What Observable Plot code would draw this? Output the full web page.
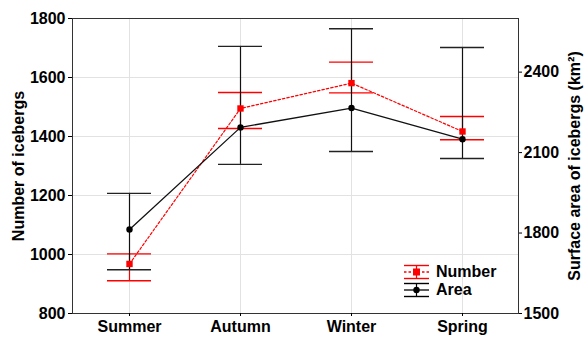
<!DOCTYPE html>
<html>
<head>
<meta charset="utf-8">
<script src="https://cdn.jsdelivr.net/npm/d3@7"></script>
<script src="https://cdn.jsdelivr.net/npm/@observablehq/plot@0.6"></script>
<style>
  html, body { margin: 0; padding: 0; background: #fff; }
  #wrap { position: relative; width: 587px; height: 338px; font-family: "Liberation Sans", Arial, sans-serif; }
  #legend { position: absolute; left: 402px; top: 263px; font-weight: bold; font-size: 16px; line-height: 18px; }
  #legend .row { display: flex; align-items: center; height: 18px; }
  #legend svg { margin-right: 6px; }
</style>
</head>
<body>
<div id="wrap">
  <div id="chart"></div>
  <div id="legend"></div>
</div>
<script>
const categories = ["Summer", "Autumn", "Winter", "Spring"];
const numberMean = [968, 1495, 1581, 1417];
const numberLow  = [911, 1427, 1548, 1389];
const numberHigh = [1002, 1549, 1652, 1468];
const areaMean = [1813, 2194, 2266, 2150];
const areaLow  = [1663, 2056, 2104, 2078];
const areaHigh = [1948, 2496, 2562, 2492];
const leftTicks = [800, 1000, 1200, 1400, 1600, 1800];
const rightTicks = [1500, 1800, 2100, 2400];
const leftDomain = [800, 1800];
const rightDomain = [1500, 2600];

const toLeft = a => leftDomain[0] + (a - rightDomain[0]) * (leftDomain[1] - leftDomain[0]) / (rightDomain[1] - rightDomain[0]);
const fromLeft = v => rightDomain[0] + (v - leftDomain[0]) * (rightDomain[1] - rightDomain[0]) / (leftDomain[1] - leftDomain[0]);

const data = categories.map((c, i) => ({
  cat: c,
  n: numberMean[i], nLo: numberLow[i], nHi: numberHigh[i],
  a: toLeft(areaMean[i]), aLo: toLeft(areaLow[i]), aHi: toLeft(areaHigh[i])
}));

const RED = "#ff0000";
const plot = Plot.plot({
  width: 587, height: 338,
  marginLeft: 72, marginRight: 69, marginTop: 18, marginBottom: 25,
  style: { fontFamily: '"Liberation Sans", Arial, sans-serif', fontWeight: "bold", fontSize: "16px", background: "white", color: "black", overflow: "visible" },
  x: { type: "band", domain: categories, paddingInner: 0.605, paddingOuter: 0.305, label: null },
  y: { domain: leftDomain, label: null },
  marks: [
    Plot.gridY(leftTicks.slice(1, -1), { stroke: "#e2e2e2", strokeOpacity: 1 }),
    Plot.gridX(categories, { stroke: "#e2e2e2", strokeOpacity: 1 }),
    Plot.frame({ stroke: "#333" }),
    Plot.axisY(leftTicks, { anchor: "left", tickSize: 4, tickPadding: 3, label: "Number of icebergs", labelArrow: "none", labelAnchor: "center", labelOffset: 60, tickFormat: d => String(d) }),
    Plot.axisY(rightTicks.map(toLeft), { anchor: "right", tickSize: 3, tickPadding: 2, label: "Surface area of icebergs (km²)", labelArrow: "none", labelAnchor: "center", labelOffset: 61, tickFormat: d => String(Math.round(fromLeft(d))) }),
    Plot.axisX(categories, { anchor: "bottom", tickSize: 3, tickPadding: 4, label: null }),
    // Number series (red)
    Plot.ruleX(data, { x: "cat", y1: "nLo", y2: "nHi", stroke: RED, strokeWidth: 1.2 }),
    Plot.tickY(data, { x: "cat", y: "nLo", stroke: RED, strokeWidth: 1.4 }),
    Plot.tickY(data, { x: "cat", y: "nHi", stroke: RED, strokeWidth: 1.4 }),
    Plot.line(data, { x: "cat", y: "n", stroke: RED, strokeWidth: 1.2, strokeDasharray: "2.5,2" }),
    // Area series (black)
    Plot.ruleX(data, { x: "cat", y1: "aLo", y2: "aHi", stroke: "#111", strokeWidth: 1.2 }),
    Plot.tickY(data, { x: "cat", y: "aLo", stroke: "#222", strokeWidth: 1.4 }),
    Plot.tickY(data, { x: "cat", y: "aHi", stroke: "#222", strokeWidth: 1.4 }),
    Plot.line(data, { x: "cat", y: "a", stroke: "#111", strokeWidth: 1.3 }),
    Plot.dot(data, { x: "cat", y: "n", symbol: "square", fill: RED, r: 3.6 }),
    Plot.dot(data, { x: "cat", y: "a", symbol: "circle", fill: "#000", r: 3.2 })
  ]
});
document.getElementById("chart").appendChild(plot);

// Legend
const legendItems = [
  { label: "Number", color: RED, dash: "2.5,2", shape: "square" },
  { label: "Area", color: "#000", dash: null, shape: "circle" }
];
const lg = d3.select("#legend");
legendItems.forEach(it => {
  const row = lg.append("div").attr("class", "row");
  const s = row.append("svg").attr("width", 28).attr("height", 18);
  s.append("line").attr("x1", 2).attr("x2", 27).attr("y1", 2.5).attr("y2", 2.5).attr("stroke", it.color).attr("stroke-width", 1.4);
  s.append("line").attr("x1", 2).attr("x2", 27).attr("y1", 15.5).attr("y2", 15.5).attr("stroke", it.color).attr("stroke-width", 1.4);
  s.append("line").attr("x1", 14.5).attr("x2", 14.5).attr("y1", 2.5).attr("y2", 15.5).attr("stroke", it.color).attr("stroke-width", 1.2);
  s.append("line").attr("x1", 2).attr("x2", 27).attr("y1", 9).attr("y2", 9).attr("stroke", it.color).attr("stroke-width", 1.3).attr("stroke-dasharray", it.dash);
  if (it.shape === "square") s.append("rect").attr("x", 11).attr("y", 5.5).attr("width", 7).attr("height", 7).attr("fill", it.color);
  else s.append("circle").attr("cx", 14.5).attr("cy", 9).attr("r", 3.2).attr("fill", it.color);
  row.append("span").text(it.label);
});
</script>
</body>
</html>
